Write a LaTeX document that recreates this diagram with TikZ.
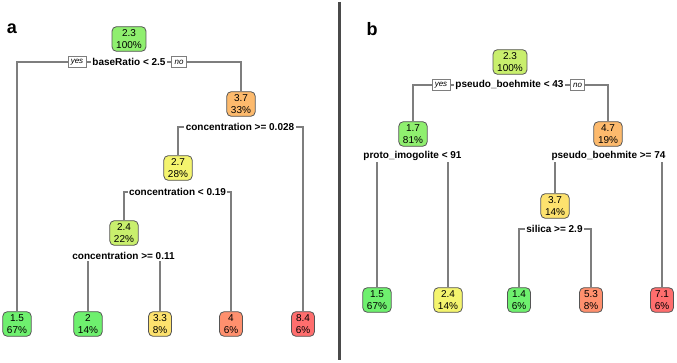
\documentclass[tikz,border=0pt]{standalone}
\usepackage{fontspec}
\setmainfont{Liberation Sans}

\definecolor{BoxBorder}{HTML}{555555}
\definecolor{EdgeGray}{HTML}{7E7E7E}
\definecolor{Divider}{HTML}{4A4A4A}
\definecolor{GreenA}{HTML}{6EF06E}
\definecolor{GreenB}{HTML}{8FEF6F}
\definecolor{YellowGreen}{HTML}{C9EF6D}
\definecolor{Yellow}{HTML}{F4F46E}
\definecolor{YellowOrange}{HTML}{FDE26E}
\definecolor{Orange}{HTML}{FDBA6D}
\definecolor{OrangeRed}{HTML}{FF906E}
\definecolor{Red}{HTML}{FF6E6E}

\tikzset{
  fitbox/.style={draw=BoxBorder, line width=0.8pt, rounded corners=4.5pt,
    align=center, inner xsep=4.2pt, inner ysep=3pt,
    font=\fontsize{10}{11.6}\selectfont},
  rule/.style={fill=white, inner xsep=1.5pt, inner ysep=1pt,
    font=\bfseries\fontsize{10}{12}\selectfont},
  answer/.style={draw=EdgeGray, fill=white, line width=0.6pt,
    inner xsep=2.8pt, inner ysep=1pt, minimum height=11pt,
    font=\itshape\fontsize{8}{9}\selectfont},
  edge/.style={draw=EdgeGray, line width=1.1pt},
  panel/.style={font=\bfseries\fontsize{18}{20}\selectfont}
}

\begin{document}
\begin{tikzpicture}[x=1pt, y=-1pt]
\useasboundingbox (0,0) rectangle (677,363);

% panel a
\node[panel] (PanelA) at (12,29) {a};
\node[fitbox, fill=GreenB] (ARoot) at (129,39) {2.3\\100\%};
\node[fitbox, fill=Orange] (AN37) at (241,104) {3.7\\33\%};
\node[fitbox, fill=Yellow] (AN27) at (178,168) {2.7\\28\%};
\node[fitbox, fill=YellowGreen] (AN24) at (124,233) {2.4\\22\%};
\node[fitbox, fill=GreenA] (AL15) at (17,324) {1.5\\67\%};
\node[fitbox, fill=GreenA] (AL2) at (88,324) {2\\14\%};
\node[fitbox, fill=YellowOrange] (AL33) at (160,324) {3.3\\8\%};
\node[fitbox, fill=OrangeRed] (AL4) at (231,324) {4\\6\%};
\node[fitbox, fill=Red] (AL84) at (303,324) {8.4\\6\%};

\coordinate (SplitA1) at (129,62);
\coordinate (SplitA2) at (240,127);
\coordinate (SplitA3) at (177.5,192);
\coordinate (SplitA4) at (123.5,256);

\draw[edge] (AL15.north) |- (SplitA1) -| (AN37.north);
\draw[edge] (AN27.north) |- (SplitA2) -| (AL84.north);
\draw[edge] (AN24.north) |- (SplitA3) -| (AL4.north);
\draw[edge] (AL2.north) |- (SplitA4) -| (AL33.north);

\node[rule] (RuleA1) at (SplitA1) {baseRatio < 2.5};
\node[answer] (YesA) at (77,62) {yes};
\node[answer] (NoA) at (179,62) {no};
\node[rule] (RuleA2) at (SplitA2) {concentration >= 0.028};
\node[rule] (RuleA3) at (SplitA3) {concentration < 0.19};
\node[rule] (RuleA4) at (SplitA4) {concentration >= 0.11};

% divider
\draw[Divider, line width=3.8pt] (339.5,2) -- (339.5,360);

% panel b
\node[panel] (PanelB) at (372,29) {b};
\node[fitbox, fill=YellowGreen] (BRoot) at (510,62) {2.3\\100\%};
\node[fitbox, fill=GreenB] (BN17) at (413,134) {1.7\\81\%};
\node[fitbox, fill=Orange] (BN47) at (608,134) {4.7\\19\%};
\node[fitbox, fill=YellowOrange] (BN37) at (555,206) {3.7\\14\%};
\node[fitbox, fill=GreenA] (BL15) at (377,300) {1.5\\67\%};
\node[fitbox, fill=Yellow] (BL24) at (448,300) {2.4\\14\%};
\node[fitbox, fill=GreenA] (BL14) at (519,300) {1.4\\6\%};
\node[fitbox, fill=OrangeRed] (BL53) at (591,300) {5.3\\8\%};
\node[fitbox, fill=Red] (BL71) at (662,300) {7.1\\6\%};

\coordinate (SplitB1) at (509.5,85);
\coordinate (SplitB2) at (412.5,156);
\coordinate (SplitB3) at (608.5,156);
\coordinate (SplitB4) at (554.5,229);

\draw[edge] (BN17.north) |- (SplitB1) -| (BN47.north);
\draw[edge] (BL15.north) |- (SplitB2) -| (BL24.north);
\draw[edge] (BN37.north) |- (SplitB3) -| (BL71.north);
\draw[edge] (BL14.north) |- (SplitB4) -| (BL53.north);

\node[rule] (RuleB1) at (SplitB1) {pseudo\_boehmite < 43};
\node[answer] (YesB) at (441,85) {yes};
\node[answer] (NoB) at (577.5,85) {no};
\node[rule] (RuleB2) at (SplitB2) {proto\_imogolite < 91};
\node[rule] (RuleB3) at (SplitB3) {pseudo\_boehmite >= 74};
\node[rule] (RuleB4) at (SplitB4) {silica >= 2.9};

\end{tikzpicture}
\end{document}
